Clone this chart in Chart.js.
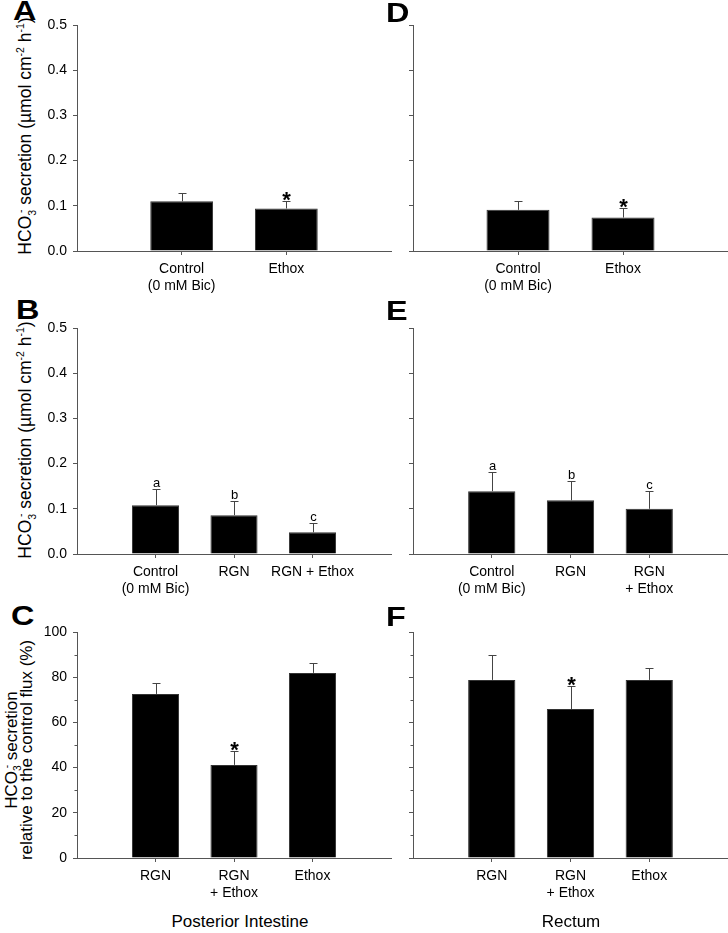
<!DOCTYPE html>
<html>
<head>
<meta charset="utf-8">
<script src="https://cdn.jsdelivr.net/npm/chart.js@4.4.1/dist/chart.umd.min.js"></script>
<style>
  body { margin: 0; background: #fff; }
  #fig { position: relative; width: 728px; height: 933px; overflow: hidden;
         font-family: "Liberation Sans", Arial, sans-serif; color: #000; }
  canvas { position: absolute; }
  .lbl { position: absolute; font-weight: bold; font-size: 27px; line-height: 1;
         transform: scaleX(1.2); transform-origin: left top; }
  .yt { position: absolute; white-space: nowrap; line-height: 1;
        transform: translate(-50%, -50%) rotate(-90deg); }
  .yt sub, .yt sup { font-size: 0.6em; line-height: 0; }
  .bt { position: absolute; white-space: nowrap; font-size: 17px; line-height: 1;
        transform: translateX(-50%); }
</style>
</head>
<body>
<div id="fig">
  <canvas id="cA" width="355" height="300" style="left:40px;top:0px"></canvas>
  <canvas id="cD" width="348" height="300" style="left:380px;top:0px"></canvas>
  <canvas id="cB" width="355" height="300" style="left:40px;top:300px"></canvas>
  <canvas id="cE" width="348" height="300" style="left:380px;top:300px"></canvas>
  <canvas id="cC" width="355" height="300" style="left:40px;top:600px"></canvas>
  <canvas id="cF" width="348" height="300" style="left:380px;top:600px"></canvas>

  <div class="lbl" style="left:13px;top:-2px">A</div>
  <div class="lbl" style="left:386px;top:0px">D</div>
  <div class="lbl" style="left:16px;top:297px">B</div>
  <div class="lbl" style="left:386px;top:298px">E</div>
  <div class="lbl" style="left:11px;top:603px">C</div>
  <div class="lbl" style="left:386px;top:604px">F</div>

  <div class="yt" style="left:26px;top:136px;font-size:17.5px">HCO<sub>3</sub><sup style="margin-left:-0.3em">-</sup> secretion (µmol cm<sup>-2</sup> h<sup>-1</sup>)</div>
  <div class="yt" style="left:26px;top:440px;font-size:17.5px">HCO<sub>3</sub><sup style="margin-left:-0.3em">-</sup> secretion (µmol cm<sup>-2</sup> h<sup>-1</sup>)</div>
  <div class="yt" style="left:11px;top:750px;font-size:17px">HCO<sub>3</sub><sup style="margin-left:-0.3em">-</sup> secretion</div>
  <div class="yt" style="left:26px;top:750px;font-size:17px">relative to the control flux (%)</div>

  <div class="bt" style="left:240px;top:913px">Posterior Intestine</div>
  <div class="bt" style="left:571px;top:913px">Rectum</div>
</div>

<script>
// values (mean and upper SE)
const catsA = [["Control", "(0 mM Bic)"], "Ethox"];
const meanA = [0.110, 0.094];
const seA = [0.018, 0.016];
const markA = ["", "*"];

const catsD = [["Control", "(0 mM Bic)"], "Ethox"];
const meanD = [0.091, 0.074];
const seD = [0.020, 0.021];
const markD = ["", "*"];

const catsB = [["Control", "(0 mM Bic)"], "RGN", "RGN + Ethox"];
const meanB = [0.108, 0.086, 0.048];
const seB = [0.036, 0.032, 0.020];
const markB = ["a", "b", "c"];

const catsE = [["Control", "(0 mM Bic)"], "RGN", ["RGN", "+ Ethox"]];
const meanE = [0.139, 0.119, 0.100];
const seE = [0.043, 0.043, 0.039];
const markE = ["a", "b", "c"];

const catsC = ["RGN", ["RGN", "+ Ethox"], "Ethox"];
const meanC = [72.6, 41.2, 81.9];
const seC = [4.8, 6.1, 4.4];
const markC = ["", "*", ""];

const catsF = ["RGN", ["RGN", "+ Ethox"], "Ethox"];
const meanF = [78.8, 65.9, 78.8];
const seF = [11.0, 10.2, 5.3];
const markF = ["", "*", ""];

const ticksFlux = [0, 0.1, 0.2, 0.3, 0.4, 0.5];
const ticksPct = [0, 20, 40, 60, 80, 100];

const FONT = '"Liberation Sans", Arial, sans-serif';
const AXIS = "#555";
Chart.defaults.font.family = FONT;
Chart.defaults.font.size = 14;
Chart.defaults.color = "#000";

// error bars, letters / asterisks and minor ticks
const barExtras = {
  id: "barExtras",
  afterDatasetsDraw(chart, args, opts) {
    const ctx = chart.ctx;
    const x = chart.scales.x, y = chart.scales.y;
    ctx.save();
    ctx.strokeStyle = "#444";
    ctx.lineWidth = 1;
    ctx.fillStyle = "#000";
    ctx.textAlign = "center";
    opts.means.forEach((m, i) => {
      const px = Math.round(x.getPixelForValue(i + 1)) + 0.5;
      const y0 = y.getPixelForValue(m);
      const y1 = Math.round(y.getPixelForValue(m + opts.se[i])) + 0.5;
      ctx.beginPath();
      ctx.moveTo(px, y0);
      ctx.lineTo(px, y1);
      ctx.moveTo(px - 4, y1);
      ctx.lineTo(px + 4, y1);
      ctx.stroke();
      const mk = opts.marks[i];
      if (mk === "*") {
        ctx.font = "bold 22px " + FONT;
        ctx.fillText("*", px, y1 + 5);
      } else if (mk) {
        ctx.font = "13px " + FONT;
        ctx.fillText(mk, px, y1 - 2.5);
      }
    });
    if (opts.minor) {
      ctx.strokeStyle = AXIS;
      const t = y.ticks;
      for (let i = 0; i < t.length - 1; i++) {
        const py = Math.round(y.getPixelForValue((t[i].value + t[i + 1].value) / 2)) + 0.5;
        ctx.beginPath();
        ctx.moveTo(chart.chartArea.left - 2.5, py);
        ctx.lineTo(chart.chartArea.left, py);
        ctx.stroke();
      }
    }
    ctx.restore();
  }
};

function panel(id, cats, means, se, marks, yTicks, showY, box) {
  const yMax = yTicks[yTicks.length - 1];
  return new Chart(document.getElementById(id), {
    type: "bar",
    data: {
      datasets: [{
        data: means.map((m, i) => ({ x: i + 1, y: m })),
        backgroundColor: "#000",
        borderColor: "#333",
        borderWidth: 1,
        barPercentage: 0.6,
        categoryPercentage: 1
      }]
    },
    options: {
      responsive: false,
      animation: false,
      events: [],
      layout: { padding: { top: box.top, right: box.right, left: 0, bottom: 0 } },
      plugins: {
        legend: { display: false },
        tooltip: { enabled: false },
        barExtras: { means: means, se: se, marks: marks, minor: box.minor }
      },
      scales: {
        x: {
          type: "linear",
          offset: false,
          min: 0,
          max: cats.length + 1,
          afterBuildTicks: s => { s.ticks = cats.map((c, i) => ({ value: i + 1 })); },
          afterFit: s => { s.height = box.xH; },
          ticks: { callback: (v, i) => cats[i], padding: 6, maxRotation: 0, autoSkip: false },
          grid: { offset: false, drawOnChartArea: false, color: AXIS, tickLength: 4 },
          border: { color: AXIS }
        },
        y: {
          min: 0,
          max: yMax,
          afterBuildTicks: s => { s.ticks = yTicks.map(v => ({ value: v })); },
          afterFit: s => { s.width = box.yW; },
          ticks: {
            callback: v => showY ? (yMax < 1 ? v.toFixed(1) : String(v)) : "",
            padding: 6
          },
          grid: { drawOnChartArea: false, color: AXIS, tickLength: 4 },
          border: { color: AXIS }
        }
      }
    },
    plugins: [barExtras]
  });
}

panel("cA", catsA, meanA, seA, markA, ticksFlux, true,  { top: 25, right: 4, yW: 37, xH: 49 });
panel("cD", catsD, meanD, seD, markD, ticksFlux, false, { top: 25, right: 0, yW: 33, xH: 49 });
panel("cB", catsB, meanB, seB, markB, ticksFlux, true,  { top: 28, right: 4, yW: 37, xH: 46 });
panel("cE", catsE, meanE, seE, markE, ticksFlux, false, { top: 28, right: 0, yW: 33, xH: 46 });
panel("cC", catsC, meanC, seC, markC, ticksPct, true,   { top: 32, right: 4, yW: 37, xH: 42, minor: true });
panel("cF", catsF, meanF, seF, markF, ticksPct, false,  { top: 32, right: 0, yW: 33, xH: 42, minor: true });
</script>
</body>
</html>
